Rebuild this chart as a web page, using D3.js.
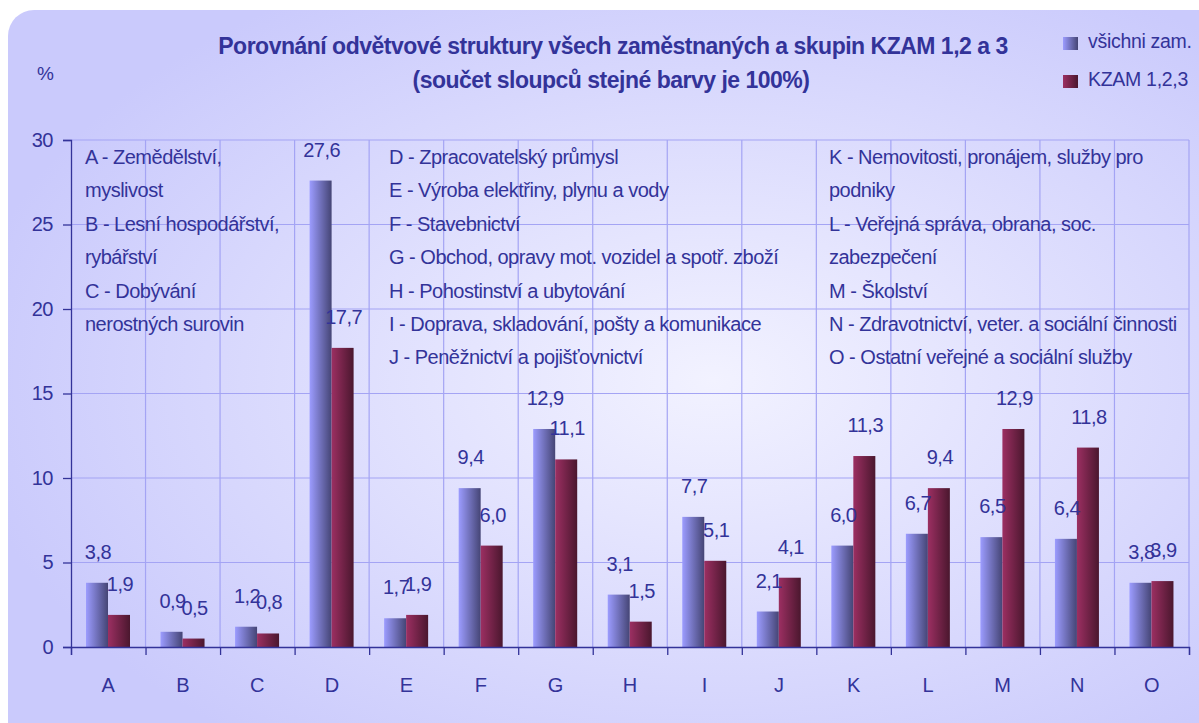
<!DOCTYPE html>
<html lang="cs">
  <head>
    <meta charset="utf-8" />
    <title>Porovnání odvětvové struktury</title>
    <script type="text/javascript" src="https://cdn.jsdelivr.net/npm/d3@7"></script>
    <style type="text/css">
      body { margin: 0; background: #fff; }
      text { font-family: "Liberation Sans", Arial, sans-serif; fill: #333399; }
    </style>
  </head>
  <body>
    <script type="text/javascript">
      var categories = ["A", "B", "C", "D", "E", "F", "G", "H", "I", "J", "K", "L", "M", "N", "O"];
      var seriesNames = ["všichni zam.", "KZAM 1,2,3"];
      var allEmployed = [3.8, 0.9, 1.2, 27.6, 1.7, 9.4, 12.9, 3.1, 7.7, 2.1, 6.0, 6.7, 6.5, 6.4, 3.8];
      var kzam = [1.9, 0.5, 0.8, 17.7, 1.9, 6.0, 11.1, 1.5, 5.1, 4.1, 11.3, 9.4, 12.9, 11.8, 3.9];
      var yTicks = [0, 5, 10, 15, 20, 25, 30];

      var noteCol1 = ["A - Zemědělství,", "myslivost", "B - Lesní hospodářství,", "rybářství", "C - Dobývání", "nerostných surovin"];
      var noteCol2 = ["D - Zpracovatelský průmysl", "E - Výroba elektřiny, plynu a vody", "F - Stavebnictví",
        "G - Obchod, opravy mot. vozidel a spotř. zboží", "H - Pohostinství a ubytování",
        "I - Doprava, skladování, pošty a komunikace", "J - Peněžnictví a pojišťovnictví"];
      var noteCol3 = ["K - Nemovitosti, pronájem, služby pro", "podniky", "L - Veřejná správa, obrana, soc.",
        "zabezpečení", "M - Školství", "N - Zdravotnictví, veter. a sociální činnosti", "O - Ostatní veřejné a sociální služby"];

      var w = 1199;
      var h = 723;
      var plotLeft = 71, plotRight = 1189, plotTop = 140, plotBottom = 647;

      var svg = d3.select("body").append("svg").attr("width", w).attr("height", h);
      var defs = svg.append("defs");

      var bg = defs.append("radialGradient").attr("id", "bg")
        .attr("cx", "58%").attr("cy", "50%").attr("r", "62%");
      bg.append("stop").attr("offset", "0%").attr("stop-color", "#f2f2ff");
      bg.append("stop").attr("offset", "100%").attr("stop-color", "#cacafc");

      var gBlue = defs.append("linearGradient").attr("id", "gBlue");
      gBlue.append("stop").attr("offset", "0%").attr("stop-color", "#9c9cff");
      gBlue.append("stop").attr("offset", "100%").attr("stop-color", "#454575");
      var gRed = defs.append("linearGradient").attr("id", "gRed");
      gRed.append("stop").attr("offset", "0%").attr("stop-color", "#9c2f62");
      gRed.append("stop").attr("offset", "100%").attr("stop-color", "#4a172e");
      var fills = ["url(#gBlue)", "url(#gRed)"];

      // card
      svg.append("rect").attr("x", 8).attr("y", 10).attr("width", 1216).attr("height", 740)
        .attr("rx", 26).attr("fill", "url(#bg)");

      var xScale = d3.scaleBand().domain(categories).range([plotLeft, plotRight]);
      var xSub = d3.scaleBand().domain(seriesNames).range([15, 59]);
      var xEdge = d3.scaleLinear().domain([0, categories.length]).range([plotLeft, plotRight]);
      var yScale = d3.scaleLinear().domain([0, 30]).range([plotBottom, plotTop]);

      // grid
      svg.append("g").selectAll("line").data(yTicks.slice(1)).enter().append("line")
        .attr("x1", plotLeft).attr("x2", plotRight)
        .attr("y1", function (d) { return yScale(d); })
        .attr("y2", function (d) { return yScale(d); })
        .attr("stroke", "#a4a4f4").attr("stroke-width", 1.2);
      svg.append("g").selectAll("line").data(d3.range(1, categories.length + 1)).enter().append("line")
        .attr("x1", function (d) { return xEdge(d); })
        .attr("x2", function (d) { return xEdge(d); })
        .attr("y1", plotTop).attr("y2", plotBottom)
        .attr("stroke", "#a4a4f4").attr("stroke-width", 1.2);

      // notes inside plot
      var notes = [
        { x: 85, lines: noteCol1 },
        { x: 389, lines: noteCol2 },
        { x: 829, lines: noteCol3 }
      ];
      notes.forEach(function (n) {
        svg.append("g").selectAll("text").data(n.lines).enter().append("text")
          .attr("x", n.x)
          .attr("y", function (d, i) { return 164 + i * 33.4; })
          .attr("font-size", "20px")
          .attr("letter-spacing", "-0.5px")
          .text(function (d) { return d; });
      });

      // bars
      var data = categories.map(function (c, i) {
        return { cat: c, vals: [allEmployed[i], kzam[i]] };
      });
      var fmt = function (v) { return d3.format(".1f")(v).replace(".", ","); };

      var groups = svg.append("g").selectAll("g").data(data).enter().append("g")
        .attr("transform", function (d) { return "translate(" + xScale(d.cat) + ",0)"; });

      groups.selectAll("rect").data(function (d) { return d.vals; }).enter().append("rect")
        .attr("x", function (d, i) { return xSub(seriesNames[i]); })
        .attr("y", function (d) { return yScale(d); })
        .attr("width", xSub.bandwidth())
        .attr("height", function (d) { return plotBottom - yScale(d); })
        .attr("fill", function (d, i) { return fills[i]; });

      groups.selectAll("text").data(function (d) { return d.vals; }).enter().append("text")
        .attr("x", function (d, i) { return xSub(seriesNames[i]) + xSub.bandwidth() / 2 + 1; })
        .attr("y", function (d) { return yScale(d) - 24; })
        .attr("text-anchor", "middle")
        .attr("font-size", "20px")
        .attr("letter-spacing", "-0.5px")
        .text(function (d) { return fmt(d); });

      // y axis
      var yAxis = svg.append("g").attr("transform", "translate(" + plotLeft + ",0)")
        .call(d3.axisLeft(yScale).tickValues(yTicks).tickSize(8).tickPadding(10));
      yAxis.select(".domain").attr("stroke", "#333399").attr("stroke-width", 1.3);
      yAxis.selectAll(".tick line").attr("stroke", "#333399").attr("stroke-width", 1.3);
      yAxis.selectAll(".tick text").attr("font-size", "20px").attr("fill", "#333399")
        .attr("font-family", "Liberation Sans, Arial, sans-serif").attr("letter-spacing", "-0.5px");

      // x axis
      var xAxis = svg.append("g").attr("transform", "translate(0," + plotBottom + ")")
        .call(d3.axisBottom(xEdge).tickValues(d3.range(categories.length + 1)).tickSize(8).tickFormat(""));
      xAxis.select(".domain").attr("stroke", "#333399").attr("stroke-width", 1.3);
      xAxis.selectAll(".tick line").attr("stroke", "#333399").attr("stroke-width", 1.3);

      svg.append("g").selectAll("text").data(categories).enter().append("text")
        .attr("x", function (d) { return xScale(d) + xScale.bandwidth() / 2; })
        .attr("y", 692)
        .attr("text-anchor", "middle")
        .attr("font-size", "20px")
        .text(function (d) { return d; });

      // title
      svg.append("text").attr("x", 613).attr("y", 54).attr("text-anchor", "middle")
        .attr("font-size", "23px").attr("font-weight", "bold").attr("letter-spacing", "-0.5px")
        .text("Porovnání odvětvové struktury všech zaměstnaných a skupin KZAM 1,2 a 3");
      svg.append("text").attr("x", 611).attr("y", 88).attr("text-anchor", "middle")
        .attr("font-size", "23px").attr("font-weight", "bold").attr("letter-spacing", "-0.5px")
        .text("(součet sloupců stejné barvy je 100%)");

      svg.append("text").attr("x", 37).attr("y", 80).attr("font-size", "19px").text("%");

      // legend
      var legend = svg.append("g").selectAll("g").data(seriesNames).enter().append("g")
        .attr("transform", function (d, i) { return "translate(1063," + (37 + i * 38) + ")"; });
      legend.append("rect").attr("width", 15).attr("height", 13)
        .attr("fill", function (d, i) { return fills[i]; });
      legend.append("text").attr("x", 25).attr("y", 11).attr("font-size", "19.5px")
        .attr("letter-spacing", "-0.3px")
        .text(function (d) { return d; });
    </script>
  </body>
</html>
